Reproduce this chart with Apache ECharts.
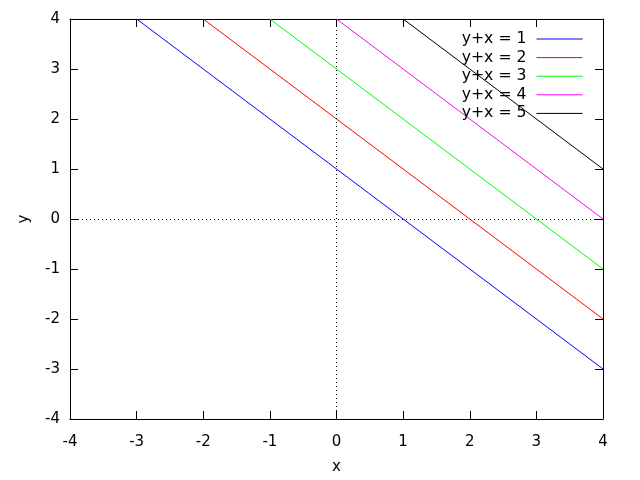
<!DOCTYPE html>
<html><head><meta charset="utf-8">
<script src="https://cdn.jsdelivr.net/npm/echarts@6/dist/echarts.min.js"></script>
<style>html,body{margin:0;padding:0;background:#fff}#c{width:640px;height:480px}</style>
</head><body><div id="c"></div>
<script>
const seriesNames = ['y+x = 1','y+x = 2','y+x = 3','y+x = 4','y+x = 5'];
const seriesColors = ['#0000ff','#ff0000','#00ff00','#ff00ff','#000000'];
const line1 = [[-3,4],[4,-3]];
const line2 = [[-2,4],[4,-2]];
const line3 = [[-1,4],[4,-1]];
const line4 = [[0,4],[4,0]];
const line5 = [[1,4],[4,1]];
const lines = [line1,line2,line3,line4,line5];
const ticks = [-4,-3,-2,-1,0,1,2,3,4];

const font = 'DejaVu Sans';
const chart = echarts.init(document.getElementById('c'), null, {renderer:'canvas'});
const axisCommon = {
  type:'value', min:-4, max:4, interval:1,
  axisLine:{show:true, onZero:false, lineStyle:{color:'#000', width:1}},
  axisTick:{show:true, inside:true, length:8, lineStyle:{color:'#000'}},
  splitLine:{show:false}
};
const series = lines.map((d,i)=>({
  name: seriesNames[i], type:'line', data:d, symbol:'none', showSymbol:false,
  lineStyle:{color:seriesColors[i], width:1}, itemStyle:{color:seriesColors[i]},
  xAxisIndex:0, yAxisIndex:0, animation:false, z:3
}));
series.push({
  type:'line', data:[], xAxisIndex:0, yAxisIndex:0, silent:true,
  markLine:{silent:true, symbol:'none', label:{show:false}, animation:false,
    lineStyle:{color:'#000', type:[1,3], width:1},
    data:[{xAxis:0},{yAxis:0}]}
});
chart.setOption({
  animation:false,
  textStyle:{fontFamily:font},
  grid:{left:70, right:37, top:19, bottom:61, containLabel:false},
  legend:{
    orient:'vertical', right:52, top:25, align:'right',
    itemWidth:46, itemHeight:10, itemGap:0.6,
    itemStyle:{opacity:0},
    lineStyle:{width:1},
    textStyle:{fontFamily:font, fontSize:15.7, color:'#000', lineHeight:18, padding:[0,5,0,0]},
    data: seriesNames
  },
  xAxis:[
    Object.assign({}, axisCommon, {position:'bottom', name:'x', nameLocation:'middle', nameGap:41,
      nameTextStyle:{fontFamily:font, fontSize:15, color:'#000'},
      axisLabel:{fontFamily:font, fontSize:15, color:'#000', margin:16}}),
    Object.assign({}, axisCommon, {position:'top', axisLabel:{show:false}})
  ],
  yAxis:[
    Object.assign({}, axisCommon, {position:'left', name:'y', nameLocation:'middle', nameGap:38,
      nameTextStyle:{fontFamily:font, fontSize:15, color:'#000'},
      axisLabel:{fontFamily:font, fontSize:15, color:'#000', margin:10}}),
    Object.assign({}, axisCommon, {position:'right', axisLabel:{show:false}})
  ],
  series: series
});
</script></body></html>
